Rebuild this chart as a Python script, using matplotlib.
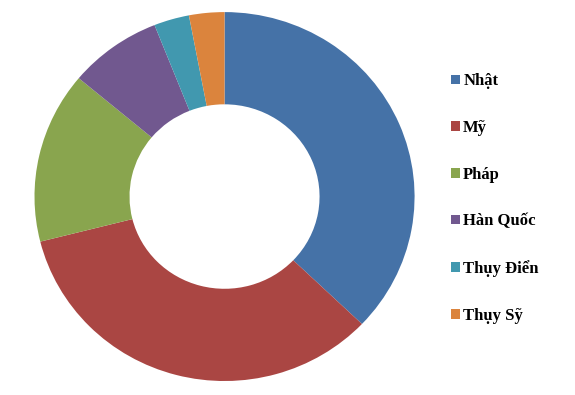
import matplotlib.pyplot as plt
from matplotlib.patches import Patch

countries = ["Nhật", "Mỹ", "Pháp", "Hàn Quốc", "Thụy Điển", "Thụy Sỹ"]
shares = [37.1, 33.9, 15.0, 7.9, 3.0, 3.0]
colors = ["#4572A7", "#AA4643", "#89A54E", "#71588F", "#4198AF", "#DB843D"]

fig = plt.figure(figsize=(5.75, 3.95), dpi=100)
# ring is slightly squashed in the reference, so use a non-equal aspect
ax = fig.add_axes([0.06, 0.0354, 0.661, 0.934])
wedges, _ = ax.pie(shares, colors=colors, startangle=90, counterclock=False,
                   radius=1.0, wedgeprops=dict(width=0.5, edgecolor="none"))
ax.set_aspect("auto")
ax.set_xlim(-1, 1)
ax.set_ylim(-1, 1)
ax.axis("off")

handles = [Patch(facecolor=c, edgecolor="none") for c in colors]
fig.legend(handles, countries, loc="upper left", bbox_to_anchor=(0.758, 0.852),
           frameon=False, handlelength=0.54, handleheight=0.5,
           handletextpad=0.2, labelspacing=1.84,
           prop=dict(family="Liberation Serif", weight="bold", size=12))

fig.savefig("out.png", dpi=100)
